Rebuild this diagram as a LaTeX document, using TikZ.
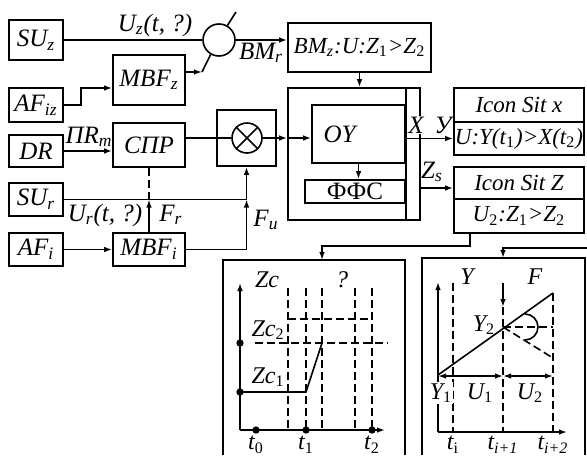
\documentclass[tikz,border=0pt]{standalone}
\usepackage{fontspec}
\setmainfont{Liberation Serif}
\usetikzlibrary{arrows.meta}
\newcommand{\sbs}[1]{\textsubscript{#1}}
\newcommand{\sbu}[1]{\textsubscript{\upshape #1}}

\begin{document}
\begin{tikzpicture}[x=0.5pt, y=-0.5pt, line width=0.8pt,
  >={Latex[length=4pt,width=2.8pt]},
  blk/.style={draw, inner sep=0pt, font=\itshape\fontsize{12.5}{12.5}\selectfont},
  sm/.style={font=\itshape\fontsize{11.5}{11.5}\selectfont},
  lbl/.style={inner sep=1pt, font=\itshape\fontsize{12.5}{12.5}\selectfont},
  chl/.style={inner sep=1pt, font=\itshape\fontsize{12}{12}\selectfont},
  dsh/.style={dash pattern=on 4pt off 2pt},
  dot/.style={circle, fill, inner sep=1.3pt}]
  \useasboundingbox (0,0) rectangle (587,455);

  % input blocks
  \node[blk, minimum width=27pt, minimum height=20pt] (suz) at (36,40) {SU\sbs{z}};
  \node[blk, minimum width=27pt, minimum height=17pt] (afiz) at (36,105) {AF\sbs{iz}};
  \node[blk, minimum width=27pt, minimum height=16pt] (dr) at (36,151) {DR};
  \node[blk, minimum width=27pt, minimum height=16.5pt] (sur) at (36,199.5) {SU\sbs{r}};
  \node[blk, minimum width=27pt, minimum height=16.5pt] (afi) at (36,249.5) {AF\sbs{i}};
  \node[blk, minimum width=36pt, minimum height=25pt] (mbfz) at (149,80) {MBF\sbs{z}};
  \node[blk, minimum width=36pt, minimum height=22pt] (spr) at (149,145) {СПР};
  \node[blk, minimum width=36pt, minimum height=16.5pt] (mbfi) at (149,249.5) {MBF\sbs{i}};

  % summing and multiplying
  \node[draw, circle, minimum size=16pt, inner sep=0pt] (sum) at (219,40) {};
  \node[draw, minimum width=29.5pt, minimum height=28pt] (mulbox) at (246.5,138) {};
  \node[draw, circle, minimum size=15pt, inner sep=0pt] (mul) at (247,138) {};
  \draw (mul.45) -- (mul.225) (mul.135) -- (mul.315);

  % control block
  \node[blk, sm, minimum width=71.5pt, minimum height=24.5pt] (bmz) at (359.5,47.5)
    {BM\sbs{z}:U:Z\sbu{1}>Z\sbu{2}};
  \node[draw, minimum width=66pt, minimum height=66pt] (ctl) at (354,154) {};
  \node[blk, minimum width=46.5pt, minimum height=29pt, text width=35pt, align=left]
    (oy) at (358.5,134) {OY};
  \node[draw, inner sep=0pt, minimum width=50pt, minimum height=11.5pt,
    font=\fontsize{12.5}{12.5}\selectfont] (ffs) at (355,191.5) {ФФС};
  \draw (ctl.north -| oy.east) -- (ctl.south -| oy.east);

  % situation icons
  \node[blk, sm, minimum width=65pt, minimum height=17pt] (isxa) at (519,105) {Icon Sit x};
  \node[blk, sm, minimum width=65pt, minimum height=16.5pt] (isxb) at (519,138.5)
    {U:Y(t\sbu{1})>X(t\sbu{2})};
  \node[blk, sm, minimum width=65pt, minimum height=16pt] (isza) at (519,183) {Icon Sit Z};
  \node[blk, sm, minimum width=65pt, minimum height=17pt] (iszb) at (519,216)
    {U\sbu{2}:Z\sbu{1}>Z\sbu{2}};

  \coordinate (kz) at (202,72);
  \coordinate (sumout) at (236,12);
  \coordinate (zs) at (420,188);
  \coordinate (zctop) at (322,260);
  \coordinate (ftop) at (503,258);
  \coordinate (fin) at (587,248);

  % connectors
  \draw (suz.east |- sum) -- (sum.west);
  \draw (sum.60) -- (sumout);
  \draw[->] (mbfz.east |- kz) -- (kz);
  \draw (kz) -- (sum.240);
  \draw[->] (sum.east) -- (sum -| bmz.west);
  \draw[->] (afiz.east) -- ++(17,0) |- ([yshift=-4pt]mbfz.west);
  \draw[->] (dr.east) -- (dr.east -| spr.west);
  \draw (spr.east |- mul) -- (mul.west);
  \draw[->] (mul.east) -- (mul -| ctl.west);
  \draw[->] (mul -| ctl.west) -- (mul -| oy.west);
  \draw[->] (bmz.south) -- (bmz.south |- ctl.north);
  \draw[->] (oy.south) -- (oy.south |- ffs.north);
  \draw[->] (afi.east) -- (mbfi.west);
  \draw[->] (mbfi.north) -- (mbfi.north |- sur);
  \draw[dsh] (mbfi.north |- sur) -- (spr.south);
  \draw (sur.east) -- (sur -| mulbox);
  \draw[->] (mbfi.east) -| (sur -| mulbox);
  \draw[->] (sur -| mulbox) -- (mulbox.south);
  \draw[->] (oy.east |- isxb) -- (isxb.west);
  \draw[->] (zs) -- (zs -| isza.west);
  \draw[->] ([xshift=8.5pt]iszb.south west) -- ++(0,-6pt) -| (zctop);
  \draw[->] (fin) -| (ftop);

  % connector labels
  \node[lbl] at (155,25) {U\sbs{z}(t, ?)};
  \node[lbl] at (261,53) {BM\sbs{r}};
  \node[lbl] at (89,137) {ПR\sbs{m}};
  \node[lbl] at (105,215) {U\sbs{r}(t, ?)};
  \node[lbl] at (171,215) {F\sbs{r}};
  \node[lbl] at (266,220) {F\sbs{u}};
  \node[lbl, fill=white, inner sep=0.5pt] at (416,125) {X};
  \node[lbl] at (443,125) {У};
  \node[lbl] at (432,172) {Z\sbs{s}};

  % left chart
  \draw (223,455) |- (405,260) -- (405,455);
  \draw[->] (240,430) -- (240,283);
  \draw[->] (240,430) -- (385,430);
  \foreach \x in {288,306,322,355,372}
    \draw[dsh] (\x,288) -- (\x,430);
  \draw[dsh] (288,319) -- (372,319);
  \draw[dsh] (255,343) -- (388,343);
  \draw (240,392) -- (306,392) -- (322,343);
  \foreach \p in {(240,343),(240,392),(256,430),(306,430),(372,430)}
    \node[dot] at \p {};
  \node[chl] at (267,280) {Zc};
  \node[chl] at (342,280) {?};
  \node[chl] at (268,330) {Zc\sbu{2}};
  \node[chl] at (268,377) {Zc\sbu{1}};
  \node[chl] at (256,445) {t\sbu{0}};
  \node[chl] at (306,445) {t\sbu{1}};
  \node[chl] at (372,445) {t\sbu{2}};

  % right chart
  \draw (422,455) |- (585,258) -- (585,455);
  \draw[->] (438,432) -- (438,282);
  \draw[->] (438,432) -- (567,432);
  \draw[dsh] (453,283) -- (453,432);
  \draw[dsh] (503,283) -- (503,432);
  \draw[dsh] (553,293) -- (553,432);
  \draw[->] (503,283) -- (503,307);
  \draw (438,375) -- (553,293);
  \draw[dsh] (503,327) -- (553,327);
  \draw[dsh] (503,327) -- (553,358);
  \draw (525,327) ++(0,-13) arc[start angle=-90, end angle=90, radius=13];
  \draw[<->] (438,376) -- (503,376);
  \draw[<->] (503,376) -- (553,376);
  \node[chl] at (467,277) {Y};
  \node[chl] at (535,277) {F};
  \node[chl] at (484,325) {Y\sbu{2}};
  \node[chl, fill=white, inner sep=0.5pt] at (441,393) {Y\sbu{1}};
  \node[chl] at (480,393) {U\sbu{1}};
  \node[chl] at (530,393) {U\sbu{2}};
  \node[chl] at (453,445) {t\sbu{i}};
  \node[chl] at (503,445) {t\sbs{i+1}};
  \node[chl] at (553,445) {t\sbs{i+2}};
\end{tikzpicture}
\end{document}
